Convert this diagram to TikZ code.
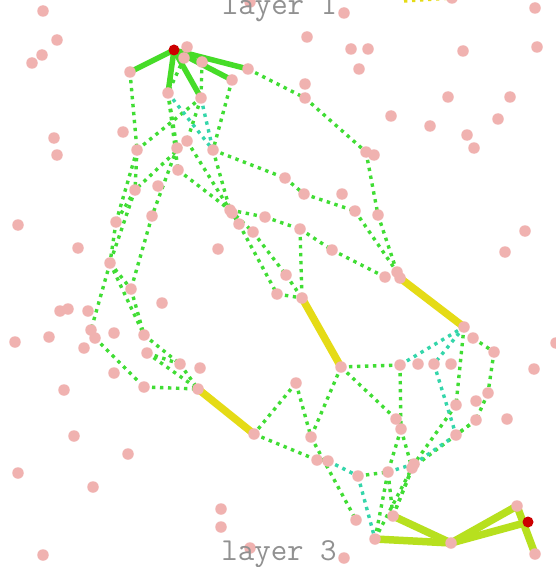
\documentclass[tikz,border=0pt]{standalone}
\usepackage{fontspec}
\pgfdeclarelayer{bg}
\pgfdeclarelayer{edges}
\pgfsetlayers{bg,edges,main}
\definecolor{dotpink}{RGB}{240,178,176}
\definecolor{dotred}{RGB}{204,0,0}
\definecolor{gr}{RGB}{64,221,52}
\definecolor{grthick}{RGB}{70,220,40}
\definecolor{tl}{RGB}{52,214,170}
\definecolor{yl}{RGB}{229,219,22}
\definecolor{yg}{RGB}{183,224,30}
\definecolor{lblgray}{RGB}{145,145,145}
\begin{document}
\begin{tikzpicture}[x=1pt,y=-1pt,
  pdot/.style={circle,fill=dotpink,inner sep=0pt,minimum size=11.5pt},
  rdot/.style={circle,fill=dotred,inner sep=0pt,minimum size=11pt},
  gd/.style={draw=gr,line width=3.4pt,dash pattern=on 3.4pt off 4.6pt},
  td/.style={draw=tl,line width=3.4pt,dash pattern=on 3.4pt off 4.6pt},
  yd/.style={draw=yl,line width=3.4pt,dash pattern=on 3.4pt off 4.6pt},
  gthick/.style={draw=grthick,line width=5.5pt},
  ythick/.style={draw=yl,line width=7.5pt},
  ygthick/.style={draw=yg,line width=7.5pt},
  lbl/.style={font=\ttfamily\fontsize{32}{32}\selectfont,text=lblgray,inner sep=0pt,anchor=base}]
\useasboundingbox (0,0) rectangle (556,567);
\begin{pgfonlayer}{bg}
\fill[white] (0,0) rectangle (556,567);
\end{pgfonlayer}
% dots
\foreach \n/\x/\y in {f1/43/11, f2/57/40, f3/42/55, f4/32/63, f5/250/2, f6/344/13, f7/307/37,
  f8/351/49, f9/368/49, f10/359/69, f11/463/51, f12/535/8, f13/537/47, f14/305/84, f15/391/116,
  f16/430/126, f17/448/97, f18/510/97, f19/498/119, f20/467/135, f21/474/148, f22/123/132,
  f23/54/138, f24/57/155, f25/187/47, f26/184/58, f27/202/62, f28/158/186, f29/342/194,
  f30/18/225, f31/78/248, f32/218/249, f33/525/231, f34/505/252, f35/162/303, f36/60/311,
  f37/68/309, f38/15/342, f39/49/337, f40/114/333, f41/84/348, f42/200/368, f43/114/373,
  f44/64/390, f45/534/369, f46/556/343, f47/507/419, f48/74/436, f49/128/454, f50/18/473,
  f51/93/487, f52/43/555, f53/221/509, f54/221/527, f55/250/548, f56/344/558, f57/88/311,
  t1/452/-2,
  a1/130/72, a2/168/93, a3/201/98, a4/232/80, a5/248/69,
  b1/137/150, b2/177/148, b3/187/141, b4/213/150, b5/178/170, b6/135/190,
  c1/305/98, c2/366/152, c3/374/155, c4/285/178, c5/304/194, c6/355/211, c7/378/215,
  d1/116/222, d2/152/216, d3/110/263, d4/131/289, d6/91/330, d7/95/338,
  d8/144/335, d9/147/353, d10/180/364, d11/144/387, d12/198/389,
  e1/230/210, e2/232/213, e3/265/217, e4/239/224, e5/253/232, e6/300/229, e7/332/250,
  e8/286/275, e9/277/294, e10/302/298, e11/385/277, e12/397/272, e13/400/278,
  g1/464/327, g2/473/338, g3/494/352, g4/341/367, g5/400/365, g6/418/364, g7/434/364,
  g8/451/364, g9/296/383, g10/488/393, g11/476/401, g12/456/405, g13/476/420, g14/396/419,
  g15/401/429, g16/456/435, g17/311/437, g18/254/434,
  h1/317/460, h2/328/461, h3/358/476, h4/388/472, h5/414/464, h6/412/468, h7/356/520,
  h8/393/516, h9/375/539, h10/451/543, h11/517/506, h12/535/554}
  \node[pdot] (\n) at (\x,\y) {};
\node[rdot] (R) at (174,50) {};
\node[rdot] (R2) at (528,522) {};
\coordinate (t0) at (404,1);
\node[lbl] (L1) at (279.5,15) {layer 1};
\node[lbl] (L3) at (279,560) {layer 3};
\begin{pgfonlayer}{edges}
\foreach \a/\b in {a1/b1, b1/a3, b1/b6, b1/d1, b6/d1, b6/d3, d1/d3, b3/b6, a2/b2, a2/b5,
  f26/a2, f27/a3, a3/b3, a4/b4, a5/c1, c1/c2, c2/c7, c7/e12, b4/c4, c4/c5, c5/c6, c6/e12,
  b2/d2, d2/d4, d3/d4, d3/d6, d3/d8, d4/d8, d8/d10, d9/d10, d10/d12, d9/d12, d7/d11, d11/d12,
  b3/e1, b5/e1, b4/e1, e1/e3, e3/e6, e6/e7, e7/e11, e1/e4, e1/e5, e4/e9, e5/e8, e8/e10,
  e6/e10, e9/e10, g4/g5, g1/g12, g2/g3, g3/g10, g10/g13, g13/g16, g4/g14, g5/g15, g4/g17,
  g9/g17, g9/g18, g17/h7, g18/h1, h3/h4, g12/h5, g13/h6, g15/h6, g15/h4, h9/h4, h9/h6,
  h8/h5, h8/h6, h8/h4}
  \draw[gd] (\a.center) -- (\b.center);
\foreach \a/\b in {a2/b4, a3/b4, g5/g1, g1/g7, g7/g16, g16/h5, h4/h5, h2/h3, h3/h9}
  \draw[td] (\a.center) -- (\b.center);
\draw[yd] (t0) -- (t1.center);
\foreach \b in {a1,a2,a3,a4,a5}
  \draw[gthick] (R.center) -- (\b.center);
\foreach \a/\b in {d12/g18, e10/g4, e13/g1}
  \draw[ythick] (\a.center) -- (\b.center);
\foreach \a/\b in {h9/h10, h8/h10, h10/h11, h10/R2, h11/h12}
  \draw[ygthick] (\a.center) -- (\b.center);
\end{pgfonlayer}
\end{tikzpicture}
\end{document}
